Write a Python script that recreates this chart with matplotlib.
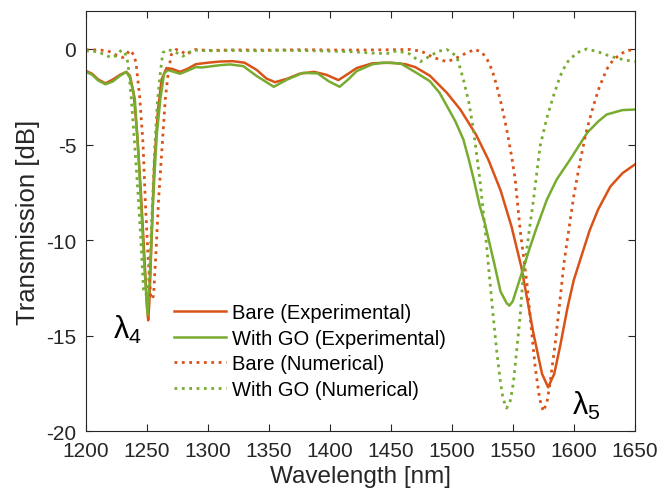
import matplotlib
matplotlib.use("Agg")
import matplotlib.pyplot as plt

plt.rcParams["font.family"] = ["Liberation Sans", "DejaVu Sans"]
plt.rcParams["mathtext.fontset"] = "custom"
plt.rcParams["mathtext.rm"] = "Liberation Sans"
plt.rcParams["mathtext.it"] = "Liberation Sans"
plt.rcParams["axes.unicode_minus"] = False

ORANGE = "#D95319"
GREEN = "#77AC30"

# Bare (Experimental)
bare_exp_wl = [1200, 1205, 1210, 1216, 1222, 1228, 1233, 1236, 1239, 1242, 1245, 1248,
               1250, 1251, 1252, 1254, 1256, 1259, 1262, 1266, 1271, 1277, 1283, 1290,
               1300, 1310, 1320, 1330, 1340, 1348, 1355, 1365, 1375, 1387, 1397, 1407,
               1415, 1422, 1435, 1450, 1462, 1470, 1482, 1496, 1507, 1520, 1530, 1540,
               1549, 1557, 1567, 1574, 1579, 1584, 1589, 1595, 1600, 1607, 1613, 1620,
               1630, 1640, 1650]
bare_exp_db = [-1.15, -1.3, -1.6, -1.8, -1.6, -1.35, -1.2, -1.4, -2.3, -4.5, -7.5, -11,
               -13.5, -14.2, -13.2, -9.5, -6, -3.2, -1.6, -1.0, -1.05, -1.2, -1.05, -0.8,
               -0.72, -0.66, -0.64, -0.72, -1.1, -1.55, -1.74, -1.56, -1.3, -1.2, -1.35, -1.63,
               -1.3, -1.0, -0.75, -0.72, -0.8, -0.95, -1.4, -2.3, -3.17, -4.5, -5.8, -7.4,
               -9.3, -11.4, -14.9, -17.0, -17.7, -17.0, -15.5, -13.5, -12.1, -10.7, -9.5, -8.4,
               -7.2, -6.5, -6.05]

# With GO (Experimental)
go_exp_wl = [1200, 1205, 1210, 1216, 1222, 1228, 1233, 1236, 1240, 1243, 1245, 1248,
             1250.5, 1252, 1255, 1258, 1261, 1264, 1267, 1272, 1277, 1283, 1290, 1295,
             1310, 1318, 1329, 1340, 1354, 1365, 1378, 1390, 1399, 1408, 1415, 1422,
             1435, 1444, 1458, 1471, 1482, 1490, 1497, 1503, 1509.5, 1514, 1518, 1523,
             1527, 1534, 1540, 1545, 1547.2, 1550, 1554, 1559, 1564, 1569, 1578, 1586,
             1597, 1611, 1620, 1627, 1640, 1650]
go_exp_db = [-1.2, -1.35, -1.65, -1.85, -1.7, -1.4, -1.2, -1.5, -2.6, -5.5, -7.9, -11.5,
             -13.9, -12.5, -7.9, -4.5, -2.6, -1.3, -1.1, -1.2, -1.3, -1.15, -0.95, -0.97,
             -0.85, -0.81, -0.9, -1.42, -1.98, -1.6, -1.25, -1.28, -1.69, -1.98, -1.6, -1.16,
             -0.8, -0.72, -0.76, -1.25, -1.69, -2.3, -3.1, -3.8, -4.74, -5.8, -6.83, -8.23,
             -9.1, -11.0, -12.7, -13.3, -13.43, -13.2, -12.4, -11.4, -10.4, -9.45, -7.88, -6.83,
             -5.79, -4.39, -3.8, -3.43, -3.2, -3.17]

# Bare (Numerical)
bare_num_wl = [1200, 1210, 1218, 1224, 1230, 1233, 1236, 1239, 1241, 1244, 1246.7, 1248.6,
               1251, 1253, 1254, 1255.4, 1257.5, 1259.5, 1262, 1265, 1267.5, 1270, 1274, 1278,
               1282, 1286, 1290, 1300, 1320, 1350, 1380, 1410, 1440, 1466, 1475, 1485,
               1496, 1503, 1509.5, 1519, 1525, 1529, 1533, 1537, 1541, 1545, 1549, 1552,
               1556, 1561.5, 1565, 1568.3, 1572, 1575, 1578, 1580.6, 1585, 1588.8, 1592, 1595.6,
               1600, 1605, 1610, 1616, 1621, 1627, 1632, 1638, 1643, 1650]
bare_num_db = [-0.05, -0.05, -0.1, -0.3, -0.45, -0.3, -0.06, -0.3, -0.72, -2.5, -4.9, -7.9,
               -11, -12.9, -13.1, -12.9, -10.5, -7.9, -5.5, -2.64, -1.2, -0.29, -0.03, -0.1,
               -0.3, -0.15, -0.03, -0.08, -0.05, -0.06, -0.04, -0.06, -0.05, -0.03, -0.12, -0.45,
               -0.67, -0.5, -0.29, -0.02, -0.2, -0.55, -1.1, -1.95, -3.0, -4.2, -5.6, -6.83,
               -9.45, -12.2, -14.5, -16.6, -18.3, -18.96, -18.5, -17.47, -15.3, -13.1, -11.2, -9.62,
               -7.7, -5.96, -4.4, -3.0, -2.0, -1.07, -0.6, -0.29, -0.1, -0.03]

# With GO (Numerical)
go_num_wl = [1200, 1205, 1210, 1215, 1221, 1225, 1229, 1232, 1234.4, 1237, 1239.8, 1243,
             1245, 1247.2, 1249, 1251, 1252.8, 1254.5, 1256.5, 1258.5, 1261, 1263, 1267, 1273,
             1279.5, 1284, 1288, 1300, 1320, 1340, 1360, 1390, 1420, 1435, 1447, 1455,
             1465, 1474, 1482, 1489, 1496, 1504, 1509.5, 1514, 1517.7, 1523, 1527.3, 1531,
             1534, 1537, 1539.6, 1542, 1545, 1548, 1550.5, 1553, 1556, 1558, 1561.5, 1563.6,
             1567, 1572.4, 1578, 1583.3, 1589, 1594.3, 1602.5, 1610.7, 1620, 1629.8, 1640, 1650]
go_num_db = [-0.1, -0.12, -0.15, -0.3, -0.46, -0.35, -0.06, -0.2, -0.72, -2.5, -4.9, -7.9,
             -10, -12.6, -12.85, -12.6, -10.5, -8.0, -5.0, -2.8, -1.2, -0.2, -0.03, -0.15,
             -0.38, -0.2, -0.06, -0.1, -0.08, -0.1, -0.07, -0.1, -0.15, -0.22, -0.24, -0.1,
             -0.25, -0.67, -0.38, -0.12, -0.03, -0.38, -1.6, -2.8, -4.2, -6.83, -9.45, -12.0,
             -14.0, -15.9, -17.3, -18.3, -18.79, -18.4, -17.47, -15.9, -14.0, -12.3, -10.5, -9.45,
             -7.88, -5.09, -3.6, -2.47, -1.4, -0.72, -0.2, 0.0, -0.15, -0.38, -0.55, -0.67]

x_ticks = [1200, 1250, 1300, 1350, 1400, 1450, 1500, 1550, 1600, 1650]
y_ticks = [-20, -15, -10, -5, 0]

fig = plt.figure(figsize=(6.72, 5.02), dpi=100)
ax = fig.add_axes([0.128, 0.139, 0.8165, 0.8377])

ax.plot(bare_exp_wl, bare_exp_db, color=ORANGE, lw=1.8, label="Bare (Experimental)")
ax.plot(go_exp_wl, go_exp_db, color=GREEN, lw=1.8, label="With GO (Experimental)")
ax.plot(bare_num_wl, bare_num_db, ":", color=ORANGE, lw=2.0, label="Bare (Numerical)")
ax.plot(go_num_wl, go_num_db, ":", color=GREEN, lw=2.0, label="With GO (Numerical)")

ax.set_xlim(1200, 1650)
ax.set_ylim(-20, 2)
ax.set_xticks(x_ticks)
ax.set_yticks(y_ticks)
ax.tick_params(direction="in", length=5, width=0.8, top=True, right=True,
               labelsize=15, pad=7, colors="#262626")
for s in ax.spines.values():
    s.set_color("#262626")
    s.set_linewidth(0.8)

ax.set_xlabel("Wavelength [nm]", fontsize=17.5, color="#262626")
ax.set_ylabel("Transmission [dB]", fontsize=18.5, color="#262626")

ax.text(1222.4, -15.1, "λ$_4$", fontsize=22, ha="left", va="baseline")
ax.text(1598.6, -19.1, "λ$_5$", fontsize=22, ha="left", va="baseline")

ax.legend(loc="center left", bbox_to_anchor=(0.16, 0.191), frameon=False,
          fontsize=14.5, handlelength=2.6, handletextpad=0.3, labelspacing=0.33,
          borderpad=0, borderaxespad=0)

fig.savefig("out.png", dpi=100)
